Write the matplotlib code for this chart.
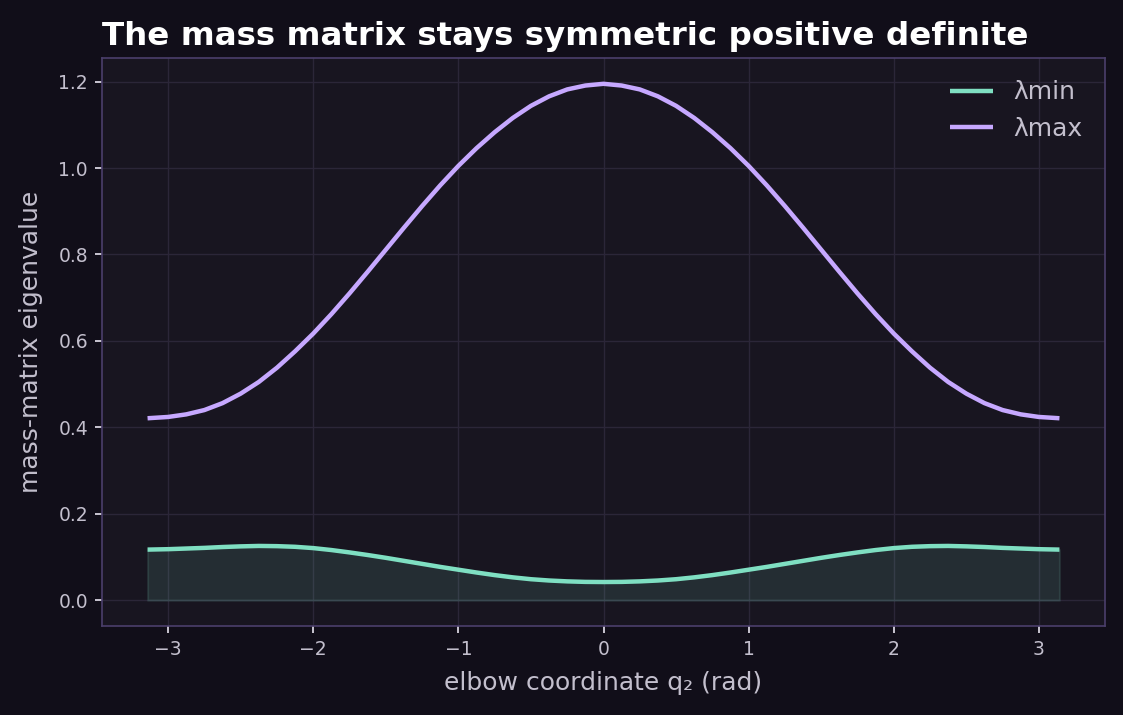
import numpy as np
import matplotlib
matplotlib.use("Agg")
import matplotlib.pyplot as plt

# elbow coordinate samples (rad)
q2 = [-3.14159, -3.0, -2.875, -2.75, -2.625, -2.5, -2.375, -2.25, -2.125, -2.0, -1.875, -1.75, -1.625,
      -1.5, -1.375, -1.25, -1.125, -1.0, -0.875, -0.75, -0.625, -0.5, -0.375, -0.25, -0.125, 0.0,
      0.125, 0.25, 0.375, 0.5, 0.625, 0.75, 0.875, 1.0, 1.125, 1.25, 1.375, 1.5,
      1.625, 1.75, 1.875, 2.0, 2.125, 2.25, 2.375, 2.5, 2.625, 2.75, 2.875, 3.0, 3.14159]
lam_max = [0.421, 0.424, 0.430, 0.440, 0.456, 0.478, 0.505, 0.538, 0.576, 0.617, 0.662, 0.710, 0.760,
           0.811, 0.862, 0.912, 0.960, 1.005, 1.046, 1.083, 1.116, 1.144, 1.166, 1.182, 1.191, 1.195,
           1.191, 1.182, 1.166, 1.144, 1.116, 1.083, 1.046, 1.005, 0.960, 0.912, 0.862, 0.811,
           0.760, 0.710, 0.662, 0.617, 0.576, 0.538, 0.505, 0.478, 0.456, 0.440, 0.430, 0.424, 0.421]
lam_min = [0.117, 0.118, 0.1195, 0.121, 0.123, 0.1245, 0.1255, 0.125, 0.1235, 0.1205, 0.116, 0.1105, 0.1045,
           0.098, 0.091, 0.084, 0.077, 0.0705, 0.064, 0.058, 0.0528, 0.0485, 0.0455, 0.0435, 0.0423, 0.042,
           0.0423, 0.0435, 0.0455, 0.0485, 0.0528, 0.058, 0.064, 0.0705, 0.077, 0.084, 0.091, 0.098,
           0.1045, 0.1105, 0.116, 0.1205, 0.1235, 0.125, 0.1255, 0.1245, 0.123, 0.121, 0.1195, 0.118, 0.117]
series_labels = ["λmin", "λmax"]

FIG_BG = "#110e19"
AX_BG = "#181520"
SPINE = "#4b3f6b"
GRID = "#2b2638"
TEXT = "#c3bfcd"
C_MIN = "#7fdfc2"
C_MAX = "#c6a8ff"

fig = plt.figure(figsize=(11.23, 7.15), dpi=100, facecolor=FIG_BG)
ax = fig.add_axes([0.0908, 0.1245, 0.8932, 0.7944])
ax.set_facecolor(AX_BG)

ax.fill_between(q2, 0, lam_min, color=C_MIN, alpha=0.12, linewidth=1.5)
ax.plot(q2, lam_min, color=C_MIN, lw=3.2, label=series_labels[0],
        solid_joinstyle="round", solid_capstyle="butt")
ax.plot(q2, lam_max, color=C_MAX, lw=3.2, label=series_labels[1],
        solid_joinstyle="round", solid_capstyle="butt")

ax.grid(True, color=GRID, lw=1)
ax.set_axisbelow(True)
for s in ax.spines.values():
    s.set_color(SPINE)
    s.set_linewidth(1.2)
ax.tick_params(labelsize=13.5, length=5, width=1.3, pad=5,
               colors="#d8d4e0", labelcolor=TEXT)

ax.set_xlabel("elbow coordinate q₂ (rad)", color=TEXT, fontsize=18, labelpad=9)
ax.set_ylabel("mass-matrix eigenvalue", color=TEXT, fontsize=18, labelpad=11)
ax.set_title("The mass matrix stays symmetric positive definite", color="#ffffff",
             fontsize=23.4, fontweight="bold", loc="left", pad=9)

leg = ax.legend(loc="upper right", frameon=False, fontsize=18, handlelength=1.75,
                labelcolor=TEXT)

fig.savefig("out.png", dpi=100, facecolor=FIG_BG)
